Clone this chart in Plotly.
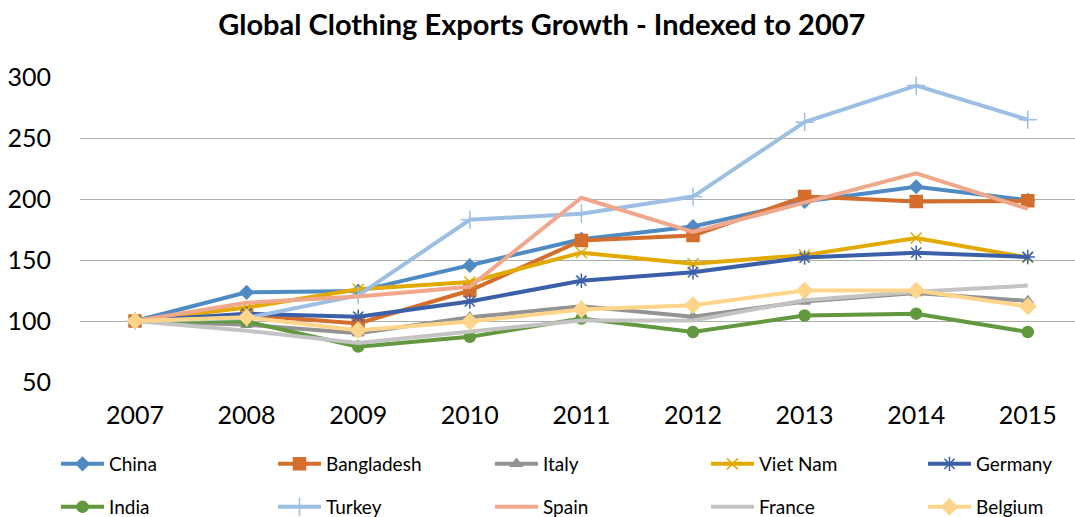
import plotly.graph_objects as go

# Export values indexed so that 2007 = 100
years = ["2007", "2008", "2009", "2010", "2011", "2012", "2013", "2014", "2015"]

china = [100, 123.5, 124.5, 145.5, 167, 177.5, 198, 210, 199]
bangladesh = [100, 105, 98, 125, 166, 170, 202, 198, 198.5]
italy = [100, 97, 90, 103, 112, 103.5, 116, 123, 116.5]
viet_nam = [100, 111, 126, 132, 156, 147, 154, 168, 152]
germany = [100, 106, 103.5, 116, 133, 140, 152, 156, 152.5]
india = [100, 99.5, 79, 87, 102, 91, 104.5, 106, 91]
turkey = [100, 102.5, 121, 183, 188, 202, 263, 293, 265]
spain = [100, 115, 120, 128, 201, 173, 197, 221, 192]
france = [100, 92, 82, 91, 100.5, 100.5, 117, 124, 129]
belgium = [100, 103, 92.5, 99.5, 109.5, 113, 125, 125, 112]

y_ticks = [50, 100, 150, 200, 250, 300]

FONT = "Lato, Carlito, Calibri, sans-serif"
W, H = 1075, 517

series = [
    ("China", china, "#4F8BC2", "diamond", 10),
    ("Bangladesh", bangladesh, "#D46E2C", "square", 12),
    ("Italy", italy, "#939393", "triangle-up", 10),
    ("Viet Nam", viet_nam, "#E2AA00", "x-thin-open", 11),
    ("Germany", germany, "#3B5FA8", "asterisk-open", 12),
    ("India", india, "#62993E", "circle", 11),
    ("Turkey", turkey, "#9DBFE4", "cross-thin-open", 13),
    ("Spain", spain, "#F0A88C", None, 0),
    ("France", france, "#C3C3C3", None, 0),
    ("Belgium", belgium, "#FFD58C", "diamond", 12),
]

# Legend grid: 5 columns x 2 rows below the plot (pixel positions)
legend_cols_px = [56, 273, 490, 706, 923]
legend_rows_px = [464, 507]

fig = go.Figure()
legend_layout = {}
for i, (name, vals, color, symbol, size) in enumerate(series):
    leg_id = "legend" if i == 0 else f"legend{i + 1}"
    if symbol is None:
        mode = "lines"
        marker = None
    else:
        mode = "lines+markers"
        marker = dict(symbol=symbol, size=size, color=color,
                      line=dict(color=color, width=1.5))
    fig.add_trace(go.Scatter(
        x=years, y=vals, name=name, mode=mode,
        line=dict(color=color, width=4),
        marker=marker, legend=leg_id, cliponaxis=False,
    ))
    col, row = i % 5, i // 5
    legend_layout[leg_id] = dict(
        xref="container", yref="container",
        x=legend_cols_px[col] / W, y=1 - legend_rows_px[row] / H,
        xanchor="left", yanchor="middle",
        orientation="h", itemwidth=43,
        font=dict(family=FONT, size=19, color="#000000"),
        bgcolor="rgba(0,0,0,0)",
    )

fig.update_layout(
    width=W, height=H,
    margin=dict(l=80, r=0, t=77, b=135, autoexpand=False),
    paper_bgcolor="white", plot_bgcolor="white",
    title=dict(text="<b>Global Clothing Exports Growth - Indexed to 2007</b>",
               x=0.504, xanchor="center", y=0.952, yanchor="middle",
               font=dict(family=FONT, size=29, color="#000000")),
    xaxis=dict(type="category", range=[-0.493, 8.423], showgrid=False,
               showline=False, zeroline=False, ticks="",
               ticklabelstandoff=16,
               tickfont=dict(family=FONT, size=25, color="#000000")),
    yaxis=dict(range=[50, 300], tickvals=y_ticks, showgrid=True,
               gridcolor="#ADADAD", gridwidth=1, zeroline=False,
               showline=False, ticks="", ticklabelstandoff=28,
               tickfont=dict(family=FONT, size=25, color="#000000")),
    showlegend=True,
    **legend_layout,
)

fig.write_html("out.html")
